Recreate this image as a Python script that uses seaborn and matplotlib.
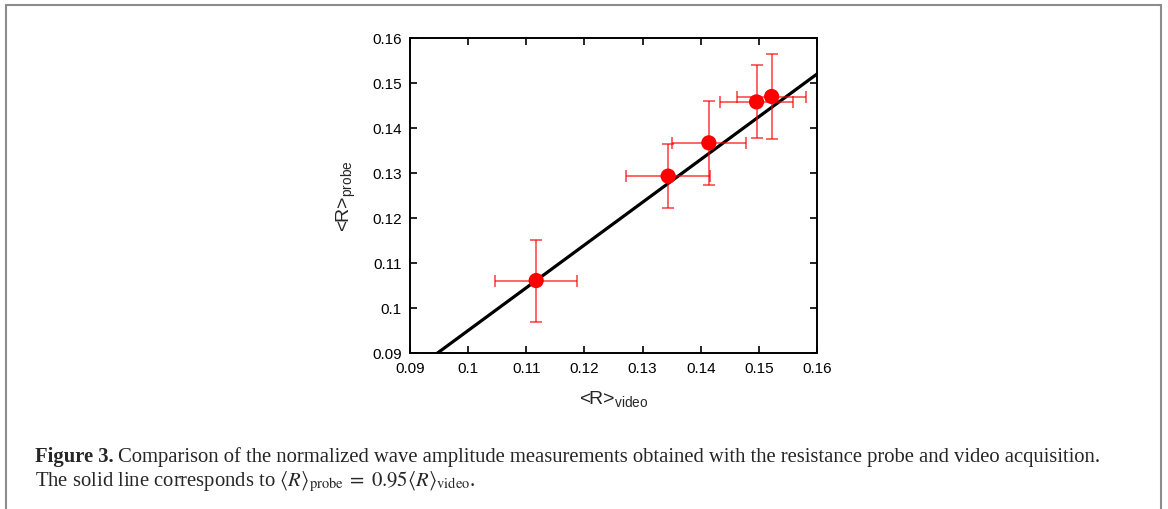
import matplotlib
matplotlib.use("Agg")
import matplotlib.pyplot as plt
import matplotlib.patches as patches
import numpy as np
import seaborn as sns

# Data
r_video = [0.1117, 0.1344, 0.1414, 0.1496, 0.1522]
r_probe = [0.1061, 0.1293, 0.1367, 0.1458, 0.1470]
err_video = [0.0071, 0.0072, 0.0064, 0.0062, 0.0059]
err_probe = [0.0091, 0.0071, 0.0093, 0.0081, 0.0095]
fit_slope = 0.95
fit_x = [0.09, 0.16]
ticks = [0.09, 0.1, 0.11, 0.12, 0.13, 0.14, 0.15, 0.16]
tick_labels = ["0.09", "0.1", "0.11", "0.12", "0.13", "0.14", "0.15", "0.16"]

sns.set_theme(style="ticks")
plt.rcParams["font.family"] = ["Liberation Sans", "DejaVu Sans"]
plt.rcParams["mathtext.fontset"] = "custom"
plt.rcParams["mathtext.rm"] = "Liberation Sans"
plt.rcParams["mathtext.it"] = "Liberation Sans:italic"

fig = plt.figure(figsize=(11.68, 5.10), dpi=100)
ax = fig.add_axes([410/1168, 1-354/510, (817-410)/1168, (354-39)/510])

fit_y = [fit_slope * v for v in fit_x]
sns.lineplot(x=fit_x, y=fit_y, ax=ax, color="black", linewidth=2.3, zorder=2)
ax.errorbar(r_video, r_probe, xerr=err_video, yerr=err_probe, fmt="none",
            ecolor=(1, 0, 0, 0.65), elinewidth=1.3, capsize=4, capthick=1.3, zorder=3)
sns.scatterplot(x=r_video, y=r_probe, ax=ax, color="red", s=120, edgecolor="none",
                zorder=4)

ax.set_xlim(0.09, 0.16)
ax.set_ylim(0.09, 0.16)
ax.set_xticks(ticks)
ax.set_xticklabels(tick_labels)
ax.set_yticks(ticks)
ax.set_yticklabels(tick_labels)
ax.tick_params(direction="in", length=5, width=1.2, labelsize=11, colors="black",
               top=True, right=True, pad=6)
for s in ax.spines.values():
    s.set_visible(True)
    s.set_linewidth(1.4)
    s.set_color("black")

ax.set_xlabel(r"<R>$_{\mathrm{video}}$", fontsize=14, labelpad=9)
ax.set_ylabel(r"<R>$_{\mathrm{probe}}$", fontsize=14, labelpad=10)

# Border frame
fig.patches.append(patches.Rectangle((6/1168, -0.02), (1161-6)/1168, 1-6/510+0.02,
                                     transform=fig.transFigure, fill=False,
                                     edgecolor="#8c8c8c", linewidth=1.5))

# Caption
cap_font = ["Liberation Serif", "DejaVu Serif"]
fs = 14.9
y1 = 1-462/510
y2 = 1-486/510
t1 = fig.text(35/1168, y1, "Figure 3.", fontsize=fs, fontweight="bold",
              family=cap_font, va="baseline")
fig.canvas.draw()
bb = t1.get_window_extent(renderer=fig.canvas.get_renderer())
fig.text(bb.x1/1168 + 4/1168, y1,
         "Comparison of the normalized wave amplitude measurements obtained with the resistance probe and video acquisition.",
         fontsize=fs, family=cap_font, va="baseline")
fig.text(35/1168, y2,
         r"The solid line corresponds to $\langle R\rangle_{\mathrm{probe}}\;=\;0.95\langle R\rangle_{\mathrm{video}}$.",
         fontsize=fs, family=cap_font, va="baseline", math_fontfamily="stix")

fig.savefig("out.png", dpi=100)
